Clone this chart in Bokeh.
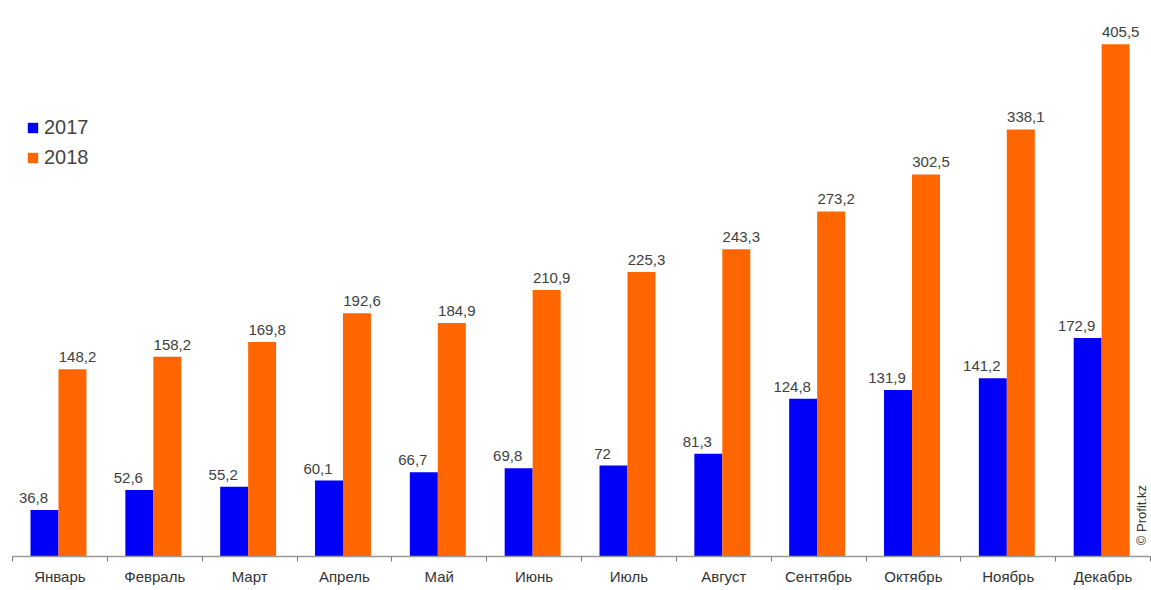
import math
from bokeh.plotting import figure
from bokeh.models import ColumnDataSource, FixedTicker, Legend, LegendItem, Label
from bokeh.transform import dodge
from bokeh.core.properties import value
from bokeh.embed import file_html
from bokeh.resources import INLINE

months = ["Январь", "Февраль", "Март", "Апрель", "Май", "Июнь",
          "Июль", "Август", "Сентябрь", "Октябрь", "Ноябрь", "Декабрь"]
values_2017 = [36.8, 52.6, 55.2, 60.1, 66.7, 69.8, 72, 81.3, 124.8, 131.9, 141.2, 172.9]
values_2018 = [148.2, 158.2, 169.8, 192.6, 184.9, 210.9, 225.3, 243.3, 273.2, 302.5, 338.1, 405.5]
series_names = ["2017", "2018"]


def fmt(v):
    s = ("%g" % v)
    return s.replace(".", ",")


idx = [i + 0.485 for i in range(len(months))]
src = ColumnDataSource(dict(
    x=idx,
    v17=values_2017,
    v18=values_2018,
    l17=[fmt(v) for v in values_2017],
    l18=[fmt(v) for v in values_2018],
))

FONT = "Liberation Sans"
BLUE = "#0000F8"
ORANGE = "#FF6600"

p = figure(frame_width=1138, frame_height=556,
           x_range=(0, 12), y_range=(0, 440.2),
           output_backend="svg", toolbar_location=None,
           min_border_left=12, min_border_right=1, min_border_top=0,
           min_border_bottom=34)
p.outline_line_color = None
p.xgrid.visible = False
p.ygrid.visible = False
p.yaxis.visible = False
p.background_fill_color = "white"
p.border_fill_color = "white"

w = 0.295
r17 = p.vbar(x=dodge("x", -0.1475), top="v17", width=w, source=src,
             fill_color=BLUE, line_color=None)
r18 = p.vbar(x=dodge("x", 0.1475), top="v18", width=w, source=src,
             fill_color=ORANGE, line_color=None)

p.text(x=dodge("x", -0.1475), y="v17", text="l17", source=src,
       text_font=value(FONT), text_font_size="15px", text_color="#404040",
       text_align="center", text_baseline="alphabetic", x_offset=-11, y_offset=-12)
p.text(x=dodge("x", 0.1475), y="v18", text="l18", source=src,
       text_font=value(FONT), text_font_size="15px", text_color="#404040",
       text_align="center", text_baseline="alphabetic", x_offset=5, y_offset=-12)

ax = p.xaxis[0]
ax.ticker = FixedTicker(ticks=[i + 0.5 for i in range(12)],
                        minor_ticks=list(range(13)))
ax.major_label_overrides = {i + 0.5: m for i, m in enumerate(months)}
ax.major_tick_line_color = None
ax.minor_tick_line_color = "#777777"
ax.minor_tick_out = 5
ax.minor_tick_in = 0
ax.axis_line_color = "#999999"
ax.axis_line_width = 1.5
ax.major_label_text_font = FONT
ax.major_label_text_font_size = "15px"
ax.major_label_text_color = "#333333"
ax.major_label_standoff = 5

legend = Legend(items=[LegendItem(label=series_names[0], renderers=[r17]),
                       LegendItem(label=series_names[1], renderers=[r18])],
                location=(14, 387), glyph_width=13, glyph_height=13,
                label_height=24, spacing=6, padding=0, margin=0,
                label_standoff=5, label_text_font=FONT,
                label_text_font_size="20px", label_text_color="#444444",
                background_fill_alpha=0, border_line_color=None)
p.add_layout(legend)

p.add_layout(Label(x=11.9, y=9, text="© Profit.kz", angle=math.pi / 2,
                   text_font=FONT, text_font_size="13px", text_color="#333333",
                   text_align="left", text_baseline="middle"))

open("out.html", "w").write(file_html(p, INLINE))
